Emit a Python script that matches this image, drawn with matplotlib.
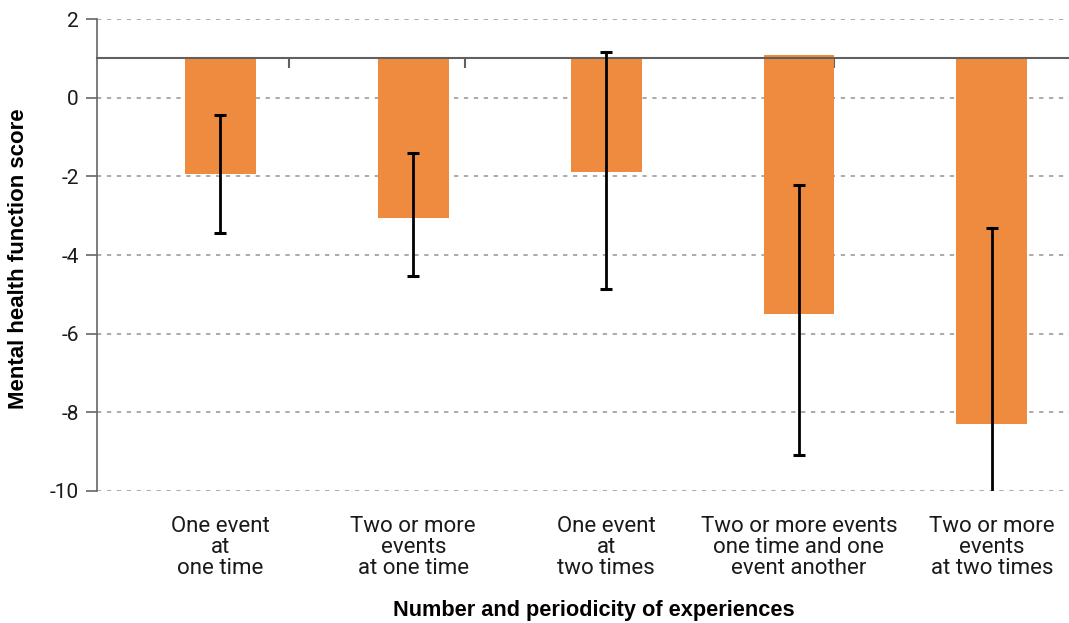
import matplotlib.pyplot as plt
import numpy as np

# categories and values
categories = ["One event\nat\none time",
              "Two or more\nevents\nat one time",
              "One event\nat\ntwo times",
              "Two or more events\none time and one\nevent another",
              "Two or more\nevents\nat two times"]
scores = [-1.93, -3.05, -1.88, -5.49, -8.29]
bar_tops = [1.0, 1.0, 1.0, 1.08, 1.0]
ci_high = [-0.43, -1.41, 1.17, -2.21, -3.32]
ci_low = [-3.45, -4.53, -4.87, -9.09, -13.26]
yticks = [2, 0, -2, -4, -6, -8, -10]

plt.rcParams['font.family'] = ['Roboto', 'DejaVu Sans']

fig = plt.figure(figsize=(10.69, 6.23), dpi=100)
ax = fig.add_axes([97/1069, 1 - 491/623, 1 - 97/1069, 472/623])

x = np.arange(len(categories))
heights = np.array(scores) - np.array(bar_tops)
ax.bar(x, heights, bottom=bar_tops, width=0.368, color='#ef8b3f', zorder=2)

yerr = [np.array(scores) - np.array(ci_low), np.array(ci_high) - np.array(scores)]
ax.errorbar(x, scores, yerr=yerr, fmt='none', ecolor='black', elinewidth=2.0,
            capsize=4.3, capthick=2.2, zorder=4)

ax.set_xlim(-0.64, 4.40)
ax.set_ylim(-10, 2)
ax.set_yticks(yticks)
ax.set_yticklabels([str(v) for v in yticks], fontsize=15, color='#1a1a1a')
ax.tick_params(axis='y', length=8, width=1.2, color='#666666', pad=5)

# dotted grid
ax.yaxis.grid(True, color='#aaaaaa', linewidth=1.4, linestyle=(0, (2.2, 2.9)), zorder=1)
ax.set_axisbelow(True)

for s in ['top', 'right']:
    ax.spines[s].set_visible(False)
ax.spines['left'].set_color('#666666')
ax.spines['left'].set_linewidth(1.2)
# baseline at 1 with its odd little ticks
ax.spines['bottom'].set_position(('data', 1))
ax.spines['bottom'].set_color('#606060')
ax.spines['bottom'].set_linewidth(1.5)
ax.spines['bottom'].set_zorder(3)
ax.set_xticks([0.355, 1.27, 3.18])
ax.tick_params(axis='x', length=7, width=1.5, color='#606060', labelbottom=False)

# category labels under the plot
sec = ax.secondary_xaxis(0)
sec.set_xticks(x)
sec.set_xticklabels(categories, fontsize=16, color='#1a1a1a', linespacing=1.0)
sec.tick_params(length=0, pad=18)
sec.spines['bottom'].set_visible(False)

fig.text(19/1069, 1 - 259/623, "Mental health function score",
         family='Liberation Sans', fontweight='bold', fontsize=16,
         rotation=90, ha='center', va='center')
fig.text(594/1069, 1 - 616/623, "Number and periodicity of experiences",
         family='Liberation Sans', fontweight='bold', fontsize=15.7,
         ha='center', va='baseline')

plt.savefig("out.png")
